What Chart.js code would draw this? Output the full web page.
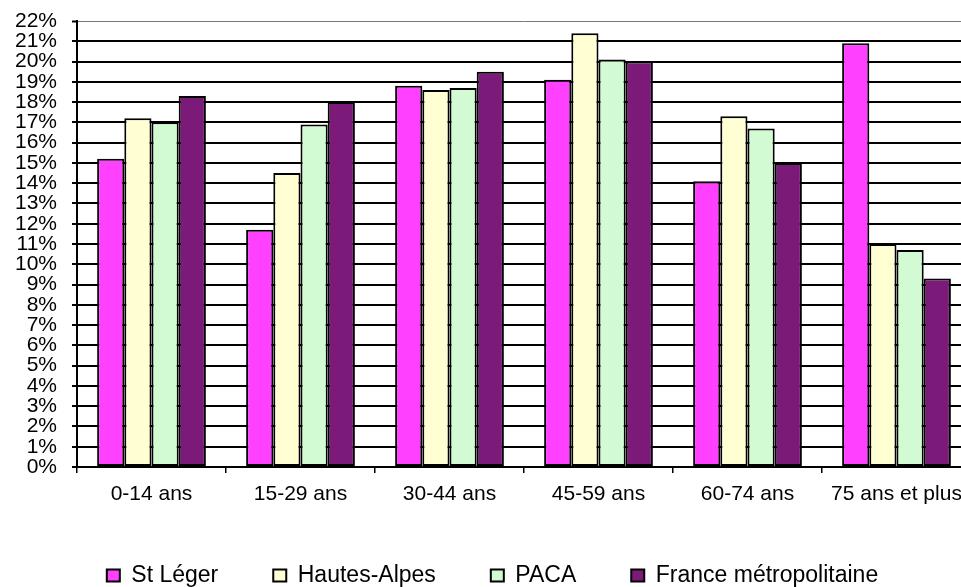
<!DOCTYPE html>
<html lang="fr">
<head>
<meta charset="utf-8">
<title>Population par tranche d'âge</title>
<script src="https://cdn.jsdelivr.net/npm/chart.js@4/dist/chart.umd.min.js"></script>
<style>
  html, body { margin: 0; padding: 0; background: #fff; }
  #wrap { width: 961px; height: 587px; overflow: hidden; position: relative; }
  #chart { display: block; }
</style>
</head>
<body>
<div id="wrap"><canvas id="chart" width="990" height="587" style="width:990px;height:587px"></canvas></div>
<script>
// Tranches d'âge
const categories = ['0-14 ans', '15-29 ans', '30-44 ans', '45-59 ans', '60-74 ans', '75 ans et plus'];

// Part de chaque tranche dans la population (%)
const stLeger      = [15.2, 11.7, 18.8, 19.1, 14.1, 20.9];
const hautesAlpes  = [17.2, 14.5, 18.6, 21.4, 17.3, 11.0];
const paca         = [17.0, 16.9, 18.7, 20.1, 16.7, 10.7];
const franceMetro  = [18.3, 18.0, 19.5, 20.0, 15.0, 9.3];

const seriesNames  = ['St Léger', 'Hautes-Alpes', 'PACA', 'France métropolitaine'];
const seriesColors = ['#FF40FF', '#FFFFD3', '#D3FBD3', '#7B1A78'];
const seriesValues = [stLeger, hautesAlpes, paca, franceMetro];

const FONT = '"Liberation Sans", Arial, Helvetica, sans-serif';

const datasets = seriesNames.map((name, i) => ({
  label: name,
  data: seriesValues[i],
  backgroundColor: seriesColors[i],
  borderColor: '#000',
  borderWidth: 2,
  borderSkipped: false,
  barPercentage: 1.0,
  categoryPercentage: 0.73
}));

new Chart(document.getElementById('chart'), {
  type: 'bar',
  data: { labels: categories, datasets },
  options: {
    responsive: false,
    animation: false,
    devicePixelRatio: 1,
    layout: { padding: { left: 14, right: 19, top: 21, bottom: -10 } },
    plugins: {
      tooltip: { enabled: false },
      legend: {
        position: 'bottom',
        align: 'center',
        labels: {
          font: { family: FONT, size: 23 },
          color: '#000',
          boxWidth: 13,
          boxHeight: 12,
          padding: 55
        }
      }
    },
    scales: {
      x: {
        afterFit: (scale) => { scale.height = 42; },
        grid: {
          offset: true,
          drawOnChartArea: false,
          drawTicks: true,
          tickLength: 6,
          color: '#000',
          lineWidth: 1.5
        },
        border: { display: true, color: '#000', width: 2 },
        ticks: {
          font: { family: FONT, size: 21 },
          color: '#000',
          padding: 9,
          maxRotation: 0,
          autoSkip: false
        }
      },
      y: {
        min: 0,
        max: 22,
        afterFit: (scale) => {
          scale.width = 63;
          scale.paddingTop = 0;
        },
        grid: {
          color: (c) => (c.tick && c.tick.value === 22 ? '#777' : '#000'),
          lineWidth: (c) => (c.tick && c.tick.value === 22 ? 1 : 2),
          tickColor: '#000',
          tickLength: 5,
          tickWidth: 2
        },
        border: { display: true, color: '#000', width: 2 },
        ticks: {
          stepSize: 1,
          autoSkip: false,
          font: { family: FONT, size: 21 },
          color: '#000',
          padding: 15,
          callback: (v) => v + '%'
        }
      }
    }
  }
});
</script>
</body>
</html>
